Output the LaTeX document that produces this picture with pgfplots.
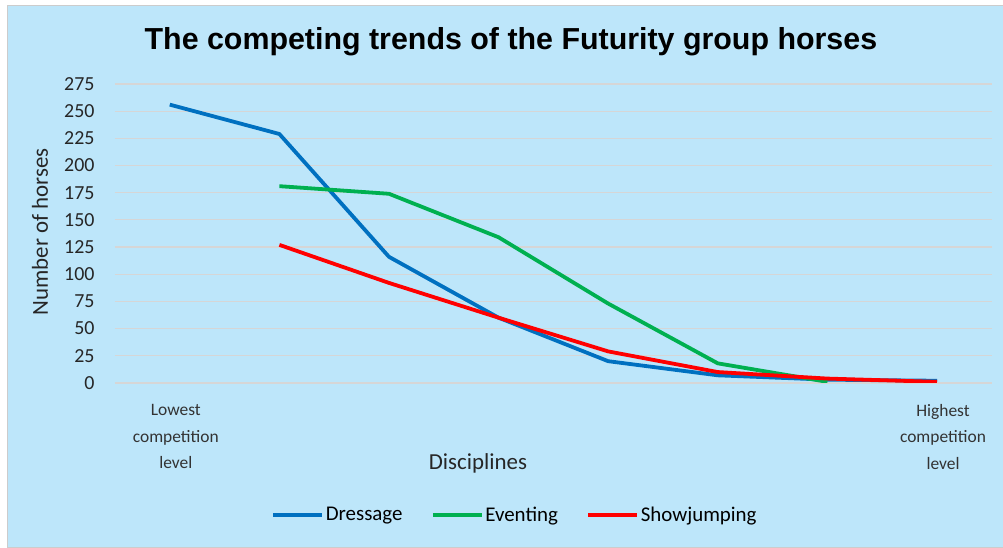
\documentclass[border=0pt]{standalone}
\usepackage{pgfplots}
\pgfplotsset{compat=1.18}
\usepackage{fontspec}
\setmainfont{Carlito}
\newfontfamily\titlefont{Liberation Sans}
\definecolor{bgblue}{HTML}{BDE6FA}
\definecolor{dblue}{HTML}{0070C0}
\definecolor{egreen}{HTML}{00B050}
\definecolor{sred}{HTML}{FF0000}
\definecolor{gridgray}{HTML}{D6D6D6}
\begin{document}
\begin{tikzpicture}
\fill[white] (0,0) rectangle (1003bp,-547bp);
\fill[bgblue,draw=gray!40] (7bp,-5bp) rectangle (1003bp,-547bp);
\node[font=\titlefont\bfseries\fontsize{30.5}{33}\selectfont, anchor=center] at (511bp,-42bp) {The competing trends of the Futurity group horses};
\begin{axis}[
  at={(115bp,-383bp)}, anchor=south west,
  scale only axis, width=877bp, height=299bp,
  xmin=0.5, xmax=8.5, ymin=0, ymax=275,
  axis line style={draw=none},
  tick style={draw=none},
  xtick={1,2,3,4,5,6,7,8},
  xticklabels={{Lowest\\competition\\level},{},{},{},{},{},{},{Highest\\competition\\level}},
  xticklabel style={align=center, font=\fontsize{17.5}{26.5}\selectfont, text=black!80, yshift=-18bp, xshift=6bp},
  ytick={0,25,...,275},
  yticklabel style={font=\fontsize{20}{22}\selectfont, text=black!85, xshift=-17bp},
  /pgf/number format/assume math mode=true,
  ymajorgrids, major grid style={gridgray, line width=1.2bp},
  xlabel={Disciplines},
  xlabel style={at={(axis description cs:0.414,-0.268)}, anchor=center, font=\fontsize{23}{26}\selectfont, text=black!85},
  ylabel={Number of horses},
  ylabel style={at={(axis description cs:-0.0855,0.505)}, anchor=center, rotate=0, font=\fontsize{23}{26}\selectfont, text=black!85},
  legend style={draw=none, fill=none, at={(0.456,-0.441)}, anchor=center, legend columns=-1,
    font=\fontsize{21}{24}\selectfont, nodes={inner xsep=1.5bp},
    /tikz/every even column/.append style={column sep=27bp}},
  legend image code/.code={\draw[#1] (0bp,0bp) -- (49bp,0bp);},
  every axis plot/.append style={line width=3.8bp, line join=round},
]
\addplot[dblue] coordinates {(1,256) (2,229) (3,116) (4,60) (5,20) (6,7) (7,3) (8,2)};
\addlegendentry{Dressage}
\addplot[egreen] coordinates {(2,181) (3,174) (4,134) (5,73) (6,18) (7,1)};
\addlegendentry{Eventing}
\addplot[sred] coordinates {(2,127) (3,92) (4,60) (5,29) (6,10) (7,4) (8,1)};
\addlegendentry{Showjumping}
\end{axis}
\end{tikzpicture}
\end{document}
